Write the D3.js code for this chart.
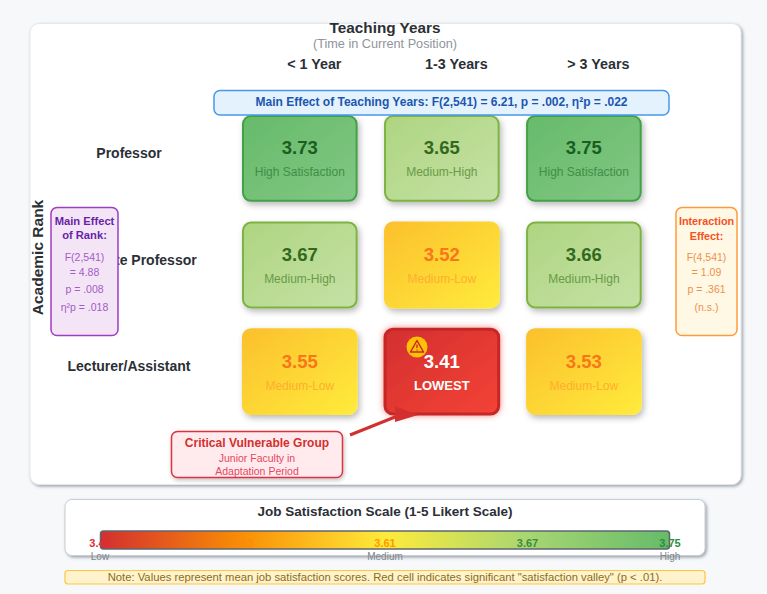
<!DOCTYPE html>
<html>
<head>
<meta charset="utf-8">
<title>Job satisfaction by rank and teaching years</title>
<script src="https://cdn.jsdelivr.net/npm/d3@7"></script>
<style>
html,body{margin:0;padding:0;background:#f6f8fa;}
svg{display:block;font-family:"Liberation Sans",Arial,sans-serif;}
</style>
</head>
<body>
<div id="chart"></div>
<script>
const ranks = ["Professor", "Associate Professor", "Lecturer/Assistant"];
const years = ["< 1 Year", "1-3 Years", "> 3 Years"];
const professorScores = [3.73, 3.65, 3.75];
const associateScores = [3.67, 3.52, 3.66];
const lecturerScores = [3.55, 3.41, 3.53];
const professorLevels = ["high", "mediumHigh", "high"];
const associateLevels = ["mediumHigh", "mediumLow", "mediumHigh"];
const lecturerLevels = ["mediumLow", "lowest", "mediumLow"];
const scaleStops = ["3.41", "3.53", "3.61", "3.67", "3.75"];
const scaleAnchors = ["Low", "Medium", "High"];

const W = 767, H = 594;

const levelStyle = {
  high:       {from:"#66bb6a", to:"#81c784", stroke:"#43a047", value:"#1b5e20", sub:"#3f8f47", label:"High Satisfaction"},
  mediumHigh: {from:"#aed581", to:"#c5e1a5", stroke:"#7cb342", value:"#33691e", sub:"#6a9a48", label:"Medium-High"},
  mediumLow:  {from:"#fbc02d", to:"#ffeb3b", stroke:"url(#fill-mediumLow)", value:"#f9761a", sub:"#ffae2e", label:"Medium-Low"},
  lowest:     {from:"#d32f2f", to:"#f44336", stroke:"#c62828", value:"#ffffff", sub:"#ffffff", label:"LOWEST"}
};

const svg = d3.select("#chart").append("svg").attr("width", W).attr("height", H);
const defs = svg.append("defs");

// Soft drop shadows for the cards and cells
function shadow(id, dx, dy, blur, color, opacity) {
  const f = defs.append("filter").attr("id", id)
    .attr("x", "-20%").attr("y", "-30%").attr("width", "140%").attr("height", "170%");
  f.append("feDropShadow").attr("dx", dx).attr("dy", dy).attr("stdDeviation", blur)
    .attr("flood-color", color).attr("flood-opacity", opacity);
}
shadow("cardShadow", 1.5, 1.5, 1.5, "#5f6b78", 0.6);
shadow("cellShadow", 2, 3, 3, "#000000", 0.28);
shadow("calloutShadow", 1, 2, 2, "#000000", 0.25);
shadow("lowGlow", 0, 0, 3, "#e53935", 0.6);

Object.entries(levelStyle).forEach(([key, s]) => {
  const g = defs.append("linearGradient").attr("id", "fill-" + key)
    .attr("x1", "0%").attr("y1", "0%").attr("x2", "100%").attr("y2", "100%");
  g.append("stop").attr("offset", "0%").attr("stop-color", s.from);
  g.append("stop").attr("offset", "100%").attr("stop-color", s.to);
});

const legendGrad = defs.append("linearGradient").attr("id", "legendFill");
[["0%", "#d32f2f"], ["25%", "#f98f04"], ["50%", "#ffeb3b"], ["75%", "#a8d672"], ["100%", "#66bb6a"]]
  .forEach(([o, c]) => legendGrad.append("stop").attr("offset", o).attr("stop-color", c));

const text = (parent, x, y, str, size, fill, weight, anchor) => parent.append("text")
  .attr("x", x).attr("y", y).attr("font-size", size).attr("fill", fill)
  .attr("font-weight", weight || "normal").attr("text-anchor", anchor || "middle").text(str);

// Main panel
svg.append("rect").attr("x", 30).attr("y", 23.5).attr("width", 711).attr("height", 461).attr("rx", 9)
  .attr("fill", "#fff").attr("stroke", "#e4e7ea").attr("filter", "url(#cardShadow)");

text(svg, 385, 33, "Teaching Years", 15.3, "#2b2f36", "bold");
text(svg, 385, 47.5, "(Time in Current Position)", 12.7, "#8e949b");

const x = d3.scaleBand().domain(years).range([243, 640.7]).paddingInner(0.2).paddingOuter(0);
const y = d3.scaleBand().domain(ranks).range([116, 414]).paddingInner(0.205).paddingOuter(0);

// Column headings sit a little right of their cell centres
const headOffset = 14.5;
years.forEach(c => text(svg, x(c) + x.bandwidth() / 2 + headOffset, 69, c, 14.3, "#2b2f36", "bold"));
ranks.forEach(r => text(svg, 129, y(r) + y.bandwidth() / 2 - 0.5, r, 14, "#2b2f36", "bold"));

text(svg, 0, 0, "Academic Rank", 15.5, "#2b2f36", "bold")
  .attr("x", null).attr("y", null).attr("transform", "translate(43,257.5) rotate(-90)");

// Heatmap cells
const cells = [];
[professorScores, associateScores, lecturerScores].forEach((row, i) => {
  const levels = [professorLevels, associateLevels, lecturerLevels][i];
  row.forEach((v, j) => cells.push({rank: ranks[i], year: years[j], value: v, level: levels[j]}));
});

const cell = svg.selectAll("g.cell").data(cells).join("g").attr("class", "cell")
  .attr("transform", d => `translate(${x(d.year)},${y(d.rank)})`);

cell.append("rect")
  .attr("width", x.bandwidth()).attr("height", y.bandwidth()).attr("rx", 8)
  .attr("fill", d => `url(#fill-${d.level})`)
  .attr("stroke", d => levelStyle[d.level].stroke)
  .attr("stroke-width", d => d.level === "lowest" ? 3 : 2)
  .attr("filter", d => d.level === "lowest" ? "url(#lowGlow)" : "url(#cellShadow)");

cell.append("text")
  .attr("x", x.bandwidth() / 2).attr("y", y.bandwidth() / 2 - 4)
  .attr("text-anchor", "middle").attr("font-size", 18.5).attr("font-weight", "bold")
  .attr("fill", d => levelStyle[d.level].value).text(d => d.value.toFixed(2));

cell.append("text")
  .attr("x", x.bandwidth() / 2).attr("y", y.bandwidth() / 2 + 18)
  .attr("text-anchor", "middle")
  .attr("font-size", d => d.level === "lowest" ? 13 : 12)
  .attr("font-weight", d => d.level === "lowest" ? "bold" : "normal")
  .attr("fill", d => levelStyle[d.level].sub)
  .text(d => levelStyle[d.level].label);

// Main effect of teaching years banner
svg.append("rect").attr("x", 214).attr("y", 90.5).attr("width", 455).attr("height", 24.5).attr("rx", 6)
  .attr("fill", "#e3f2fd").attr("stroke", "#4a98ea").attr("stroke-width", 1.5);
text(svg, 441.5, 106, "Main Effect of Teaching Years: F(2,541) = 6.21, p = .002, η²p = .022", 12, "#1c56b0", "bold");

// Main effect of rank box
svg.append("rect").attr("x", 51).attr("y", 207.5).attr("width", 67).attr("height", 128).attr("rx", 6)
  .attr("fill", "#f3e5f5").attr("stroke", "#9c3fc0").attr("stroke-width", 1.5);
text(svg, 84.5, 225, "Main Effect", 11.2, "#6a1fa8", "bold");
text(svg, 84.5, 239, "of Rank:", 11.2, "#6a1fa8", "bold");
text(svg, 84.5, 261, "F(2,541)", 10.5, "#a35bc8");
text(svg, 84.5, 276, "= 4.88", 10.5, "#a35bc8");
text(svg, 84.5, 293, "p = .008", 10.5, "#a35bc8");
text(svg, 84.5, 311, "η²p = .018", 10.5, "#a35bc8");

// Interaction effect box
svg.append("rect").attr("x", 676).attr("y", 207.5).attr("width", 61).attr("height", 128).attr("rx", 6)
  .attr("fill", "#fff8e5").attr("stroke", "#ff9a3c").attr("stroke-width", 1.5);
text(svg, 706.5, 225, "Interaction", 10.8, "#f4511e", "bold");
text(svg, 706.5, 240, "Effect:", 10.8, "#f4511e", "bold");
text(svg, 706.5, 261, "F(4,541)", 10.5, "#f0904a");
text(svg, 706.5, 276, "= 1.09", 10.5, "#f0904a");
text(svg, 706.5, 293, "p = .361", 10.5, "#f0904a");
text(svg, 706.5, 311, "(n.s.)", 10.5, "#f0904a");

// Warning badge on the lowest cell
const badge = svg.append("g").attr("transform", "translate(417,347)");
badge.append("circle").attr("r", 10.5).attr("fill", "#ffc107");
badge.append("path").attr("d", "M0,-6.5 L6.5,5 L-6.5,5 Z").attr("fill", "none")
  .attr("stroke", "#c62828").attr("stroke-width", 1.5).attr("stroke-linejoin", "round");
badge.append("path").attr("d", "M0,-2.5 V1 M0,2.6 V3.6").attr("stroke", "#c62828").attr("stroke-width", 1.4);

// Callout with its arrow into the lowest cell
svg.append("line").attr("x1", 350).attr("y1", 435).attr("x2", 400).attr("y2", 415)
  .attr("stroke", "#d32f2f").attr("stroke-width", 3);
svg.append("path").attr("d", "M395,406 L418,415 L395,422 Z").attr("fill", "#d32f2f");

svg.append("rect").attr("x", 171.5).attr("y", 431.5).attr("width", 171).attr("height", 46).attr("rx", 6)
  .attr("fill", "#ffebee").attr("stroke", "#d9333f").attr("stroke-width", 1.5)
  .attr("filter", "url(#calloutShadow)");
text(svg, 257, 447, "Critical Vulnerable Group", 12, "#d32f2f", "bold");
text(svg, 257, 462, "Junior Faculty in", 10.5, "#e8455f");
text(svg, 257, 475, "Adaptation Period", 10.5, "#e8455f");

// Colour scale legend
svg.append("rect").attr("x", 65).attr("y", 499.5).attr("width", 640).attr("height", 56).attr("rx", 7)
  .attr("fill", "#fff").attr("stroke", "#c9ced4").attr("filter", "url(#cardShadow)");
text(svg, 385, 516, "Job Satisfaction Scale (1-5 Likert Scale)", 13.5, "#2b2f36", "bold");

const legendX = d3.scalePoint().domain(scaleStops).range([100, 670]);
const anchorX = d3.scalePoint().domain(scaleAnchors).range([100, 670]);
svg.append("rect").attr("x", 100.5).attr("y", 531).attr("width", 569).attr("height", 18).attr("rx", 3)
  .attr("fill", "url(#legendFill)").attr("stroke", "#5c6670").attr("stroke-width", 1.5);

const stopColors = ["#e02b35", "#f98a10", "#ff9800", "#3f8a3c", "#2e8b3a"];
scaleStops.forEach((s, i) => text(svg, legendX(s), 547, s, 11, stopColors[i], "bold"));
scaleAnchors.forEach(a => text(svg, anchorX(a), 560, a, 10, "#80868c"));

// Footnote
svg.append("rect").attr("x", 65).attr("y", 570.5).attr("width", 640).attr("height", 13.5).attr("rx", 3)
  .attr("fill", "#fff3cd").attr("stroke", "#ffc53d").attr("stroke-width", 1.2);
text(svg, 385, 581, 'Note: Values represent mean job satisfaction scores. Red cell indicates significant "satisfaction valley" (p < .01).', 11.25, "#8a6d1a");
</script>
</body>
</html>
